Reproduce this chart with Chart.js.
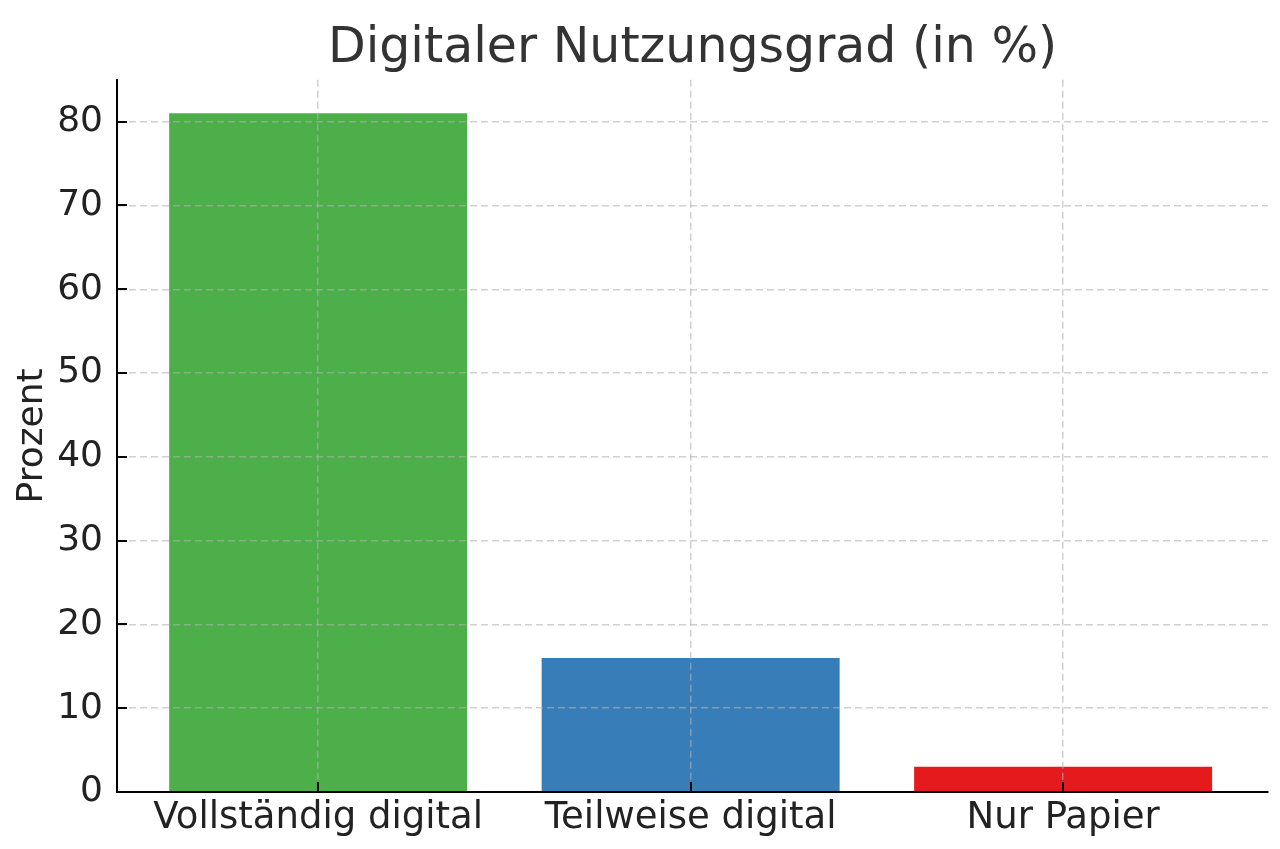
<!DOCTYPE html>
<html>
<head>
<meta charset="utf-8">
<script src="https://cdn.jsdelivr.net/npm/chart.js@4.4.0/dist/chart.umd.min.js"></script>
<style>
  html, body { margin: 0; padding: 0; background: #fff; }
  #wrap { width: 1280px; height: 849px; }
</style>
</head>
<body>
<div id="wrap"><canvas id="grafico"></canvas></div>
<script>
const kategorien = ['Vollständig digital', 'Teilweise digital', 'Nur Papier'];
const prozent = [81, 16, 3];
const farben = ['#4daf4a', '#377eb8', '#e41a1c'];
const yTicks = [0, 10, 20, 30, 40, 50, 60, 70, 80];

const FONT = "'DejaVu Sans', sans-serif";
const gitter = 'rgba(176,176,176,0.6)';

// matplotlib-artige Ticks nach innen
const innenTicks = {
    id: 'innenTicks',
    afterDraw(chart) {
        const {ctx, chartArea, scales} = chart;
        ctx.save();
        ctx.strokeStyle = '#000';
        ctx.lineWidth = 2;
        ctx.beginPath();
        scales.y.ticks.forEach(t => {
            const y = Math.round(scales.y.getPixelForValue(t.value));
            ctx.moveTo(chartArea.left, y);
            ctx.lineTo(chartArea.left + 10, y);
        });
        scales.x.ticks.forEach(t => {
            const x = Math.round(scales.x.getPixelForValue(t.value));
            ctx.moveTo(x, chartArea.bottom);
            ctx.lineTo(x, chartArea.bottom - 10);
        });
        ctx.stroke();
        ctx.restore();
    }
};

const ctx = document.getElementById('grafico').getContext('2d');
new Chart(ctx, {
    type: 'bar',
    data: {
        datasets: [{
            data: kategorien.map((k, i) => ({x: i, y: prozent[i]})),
            backgroundColor: farben,
            borderWidth: 0,
            barPercentage: 1,
            categoryPercentage: 0.8
        }]
    },
    options: {
        responsive: true,
        maintainAspectRatio: false,
        devicePixelRatio: 1,
        animation: false,
        layout: { padding: { left: 0, right: 12, top: 0, bottom: 0 } },
        plugins: {
            legend: { display: false },
            tooltip: { enabled: false },
            title: {
                display: true,
                text: 'Digitaler Nutzungsgrad (in %)',
                fullSize: false,
                color: '#333',
                font: { family: FONT, size: 49, weight: 'normal', lineHeight: 1.2 },
                padding: { top: 20, bottom: 1 }
            }
        },
        scales: {
            x: {
                type: 'linear',
                min: -0.54,
                max: 2.55,
                offset: false,
                afterBuildTicks: s => { s.ticks = kategorien.map((k, i) => ({value: i})); },
                afterFit: s => { s.height = 57; },
                ticks: {
                    callback: v => kategorien[v],
                    color: '#222',
                    font: { family: FONT, size: 37 },
                    padding: 4,
                    maxRotation: 0,
                    autoSkip: false
                },
                grid: { color: gitter, lineWidth: 1.5, drawTicks: false, offset: false, z: 1 },
                border: { display: true, color: '#000', width: 2, dash: [7, 4], z: 2 }
            },
            y: {
                min: 0,
                max: 85,
                afterBuildTicks: s => { s.ticks = yTicks.map(v => ({value: v})); },
                afterFit: s => { s.width = 117; },
                ticks: {
                    color: '#222',
                    font: { family: FONT, size: 36 },
                    padding: 14
                },
                grid: { color: gitter, lineWidth: 1.5, drawTicks: false, z: 1 },
                border: { display: true, color: '#000', width: 2, dash: [7, 4], z: 2 },
                title: {
                    display: true,
                    text: 'Prozent',
                    color: '#222',
                    font: { family: FONT, size: 36, lineHeight: 1.2 },
                    padding: { top: 11, bottom: 0 }
                }
            }
        }
    },
    plugins: [innenTicks]
});
</script>
</body>
</html>
